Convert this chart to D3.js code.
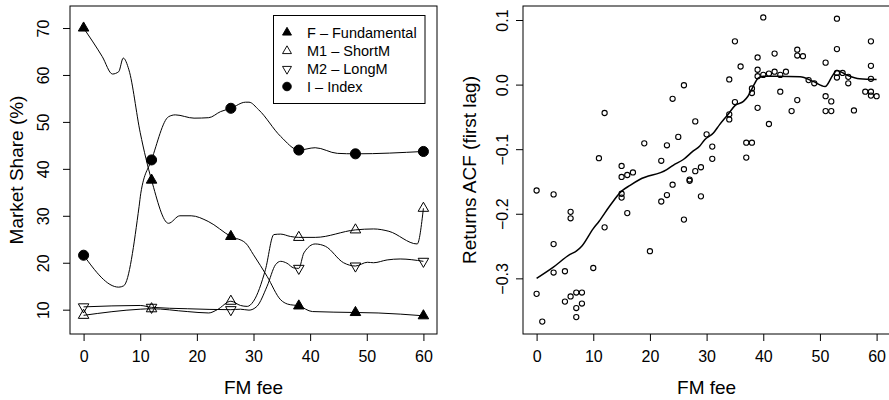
<!DOCTYPE html>
<html>
<head>
<meta charset="utf-8">
<script src="https://cdn.jsdelivr.net/npm/d3@7"></script>
<style>
  body { margin: 0; background: #fff; }
  svg { display: block; font-family: "Liberation Sans", Arial, Helvetica, sans-serif; }
</style>
</head>
<body>
<svg id="chart" width="889" height="400"></svg>
<script>
'use strict';

// ---- left panel: market share by agent type --------------------------
// fees at which a marker is drawn on each line
var markerFees = [0, 12, 26, 38, 48, 60];

// [fee, share %]
var fundamental = [[0, 70], [3.3, 63.9], [5.1, 60.2], [6.2, 60.7], [7, 63.6], [8, 61.1],
  [10, 47.7], [12, 37.6], [15, 28.4], [17, 30], [19, 30], [22, 28.8], [26, 25.6],
  [28.6, 24.2], [30, 21.7], [32.4, 17.1], [34.8, 12.1], [36, 11.2], [38, 10.8],
  [40.4, 9.6], [48, 9.4], [52, 9.3], [60, 8.7]];
var shortM = [[0, 8.8], [10, 10.1], [12, 10.2], [18.3, 9.6], [22.1, 9.3], [23.6, 10],
  [26, 11.8], [27.7, 10.9], [28.9, 10.7], [30, 11.8], [32.1, 18.5], [33.6, 26],
  [34.8, 26.1], [36.5, 25.6], [38, 25.4], [40.9, 25.4], [48, 27], [51.2, 27.2],
  [53.9, 26.7], [58.9, 24], [60, 31.6]];
var longM = [[0, 10.6], [10, 10.9], [12, 10.5], [18.3, 10.2], [26, 10.0], [27.7, 10.1],
  [29.2, 9.9], [30.6, 10.7], [32.4, 15], [33.9, 19.6], [34.8, 20.3], [35.9, 19.9],
  [37.1, 18.9], [38, 18.8], [38.9, 22.1], [40.9, 24], [42.7, 23.5], [45.9, 20],
  [48, 19.3], [50.1, 20.1], [51.2, 20], [53.6, 20.6], [55.9, 20.8], [60, 20.3]];
var indexShare = [[0, 21.6], [6.2, 14.8], [7.1, 15.1], [9.8, 32], [10.1, 34.8], [12, 41.9],
  [15, 51.1], [16.2, 51.5], [19.5, 50.8], [22.1, 50.9], [24.2, 52.2], [26, 52.9],
  [28.6, 54.2], [29.2, 54.2], [30.9, 52.6], [34.8, 46.9], [38, 44.0], [40.9, 44.5],
  [44.8, 43.3], [48, 43.2], [60, 43.7]];

var legendLabels = ['F \u2013 Fundamental', 'M1 \u2013 ShortM', 'M2 \u2013 LongM', 'I \u2013 Index'];

// ---- right panel: returns ACF (first lag) ---------------------------
var acfFee = [0, 0, 1, 3, 3, 3, 5, 5, 6, 6, 6, 7, 7, 7, 8, 8, 10, 11, 12, 12,
  15, 15, 15, 15, 16, 16, 17, 19, 20, 22, 22, 23, 23, 24, 24, 25, 26, 26, 26,
  27, 27, 28, 28, 29, 29, 30, 31, 31, 34, 34, 34, 35, 35, 36, 37, 37, 38, 38, 38,
  39, 39, 39, 39, 40, 40, 41, 41, 42, 42, 43, 43, 44, 45, 46, 46, 46, 47, 48, 49,
  51, 51, 51, 52, 52, 53, 53, 53, 53, 54, 55, 55, 56, 58, 59, 59, 59, 59, 59, 60];
var acfValue = [-0.164, -0.324, -0.367, -0.170, -0.247, -0.291, -0.289, -0.336,
  -0.197, -0.207, -0.328, -0.322, -0.346, -0.360, -0.322, -0.339, -0.284, -0.114,
  -0.044, -0.221, -0.126, -0.143, -0.169, -0.175, -0.140, -0.199, -0.136, -0.091,
  -0.258, -0.118, -0.181, -0.094, -0.171, -0.022, -0.155, -0.081, -0.001, -0.131,
  -0.209, -0.147, -0.149, -0.057, -0.134, -0.128, -0.173, -0.077, -0.096, -0.115,
  0.008, -0.046, -0.054, 0.067, -0.027, 0.028, -0.090, -0.113, -0.090, -0.006,
  -0.013, 0.042, 0.023, 0.013, -0.036, 0.104, 0.015, 0.017, -0.061, 0.048, 0.020,
  0.015, -0.011, 0.020, -0.041, 0.054, 0.045, -0.024, 0.044, 0.007, 0.002, 0.034,
  -0.018, -0.041, -0.026, -0.041, 0.102, 0.055, 0.018, 0.011, 0.018, 0.012, 0.002,
  -0.040, -0.011, 0.067, 0.029, 0.009, -0.011, -0.017, -0.018];

// smoothed curve through the scatter
var smoothFee = [0, 2.9, 5.9, 7, 8, 10, 11, 12.9, 15, 16.5, 18.2, 22.9, 24.1, 25.9,
  27.6, 28.8, 29.7, 31.2, 32.3, 33.8, 35, 36.5, 37.3, 38.2, 39.1, 40, 42.4, 46.5,
  48.8, 50.9, 52.3, 53, 54.7, 57, 60];
var smoothValue = [-0.300, -0.283, -0.263, -0.258, -0.250, -0.223, -0.212, -0.188,
  -0.165, -0.156, -0.147, -0.132, -0.125, -0.116, -0.103, -0.095, -0.085, -0.075,
  -0.062, -0.046, -0.0325, -0.026, -0.018, -0.003, 0.010, 0.013, 0.013, 0.012,
  0.005, -0.003, 0.015, 0.022, 0.015, 0.009, 0.008];

var feeTicks = [0, 10, 20, 30, 40, 50, 60];
var shareTicks = [10, 20, 30, 40, 50, 60, 70];
var acfTicks = [-0.3, -0.2, -0.1, 0.0, 0.1];

var svg = d3.select('#chart');
var boxTop = 6, boxBottom = 334;

/**
 * Box, ticks, tick labels and titles in the R base-graphics look.
 */
function drawFrame(x, y, xTicks, yTicks, yFormat, yLabelOffset, yTitle, yTitleX) {
  var r = x.range();
  var xAxis = svg.append('g')
    .attr('transform', 'translate(0,' + boxBottom + ')')
    .call(d3.axisBottom(x).tickValues(xTicks).tickSize(7).tickSizeOuter(0));
  xAxis.select('.domain').remove();
  xAxis.selectAll('text')
    .attr('y', 27.7).attr('dy', 0)
    .style('font-size', '16px').attr('fill', '#000');

  var yAxis = svg.append('g')
    .attr('transform', 'translate(' + r[0] + ',0)')
    .call(d3.axisLeft(y).tickValues(yTicks).tickSize(7).tickSizeOuter(0).tickFormat(yFormat));
  yAxis.select('.domain').remove();
  yAxis.selectAll('text')
    .attr('x', 0).attr('dy', 0)
    .attr('transform', 'translate(' + (-yLabelOffset) + ',0) rotate(-90)')
    .style('text-anchor', 'middle')
    .style('font-size', '16px').attr('fill', '#000');

  svg.append('rect')
    .attr('x', r[0]).attr('y', boxTop)
    .attr('width', r[1] - r[0]).attr('height', boxBottom - boxTop)
    .attr('fill', 'none').attr('stroke', '#000').attr('stroke-width', 1);

  svg.append('text')
    .attr('x', (x(0) + x(60)) / 2).attr('y', 393.5)
    .attr('text-anchor', 'middle').style('font-size', '19px')
    .text('FM fee');

  svg.append('text')
    .attr('transform', 'translate(' + yTitleX + ',' + ((boxTop + boxBottom) / 2) + ') rotate(-90)')
    .attr('text-anchor', 'middle').style('font-size', '19px')
    .text(yTitle);
}

// ---- left panel ----
var xL = d3.scaleLinear().domain([-2.4, 62.4]).range([70, 437]);
var yL = d3.scaleLinear().domain([4.82, 74.69]).range([boxBottom, boxTop]);

drawFrame(xL, yL, feeTicks, shareTicks, d3.format('d'), 20.7, 'Market Share (%)', 22.5);

var shareLine = d3.line()
  .x(function (d) { return xL(d[0]); })
  .y(function (d) { return yL(d[1]); })
  .curve(d3.curveMonotoneX);

var tri = d3.symbol().type(d3.symbolTriangle).size(48);
var dot = d3.symbol().type(d3.symbolCircle).size(80);

var series = [
  { data: fundamental, path: tri(), rot: 0, fill: '#000' },
  { data: shortM, path: tri(), rot: 0, fill: 'none' },
  { data: longM, path: tri(), rot: 180, fill: 'none' },
  { data: indexShare, path: dot(), rot: 0, fill: '#000' }
];

series.forEach(function (s) {
  svg.append('path')
    .attr('d', shareLine(s.data))
    .attr('fill', 'none').attr('stroke', '#000').attr('stroke-width', 1);

  svg.selectAll(null)
    .data(s.data.filter(function (d) { return markerFees.indexOf(d[0]) >= 0; }))
    .enter().append('path')
    .attr('d', s.path)
    .attr('transform', function (d) {
      return 'translate(' + xL(d[0]) + ',' + yL(d[1]) + ') rotate(' + s.rot + ')';
    })
    .attr('fill', s.fill).attr('stroke', '#000').attr('stroke-width', 1);
});

// legend
var legend = svg.append('g');
legend.append('rect')
  .attr('x', 273.5).attr('y', 15.5).attr('width', 151.5).attr('height', 88)
  .attr('fill', '#fff').attr('stroke', '#000').attr('stroke-width', 1);
var rowY = [32.5, 51, 69, 86.5];
series.forEach(function (s, i) {
  legend.append('path')
    .attr('d', s.path)
    .attr('transform', 'translate(287,' + rowY[i] + ') rotate(' + s.rot + ') scale(0.85)')
    .attr('fill', s.fill).attr('stroke', '#000').attr('stroke-width', 1.1);
  legend.append('text')
    .attr('x', 307).attr('y', rowY[i]).attr('dy', '0.35em')
    .style('font-size', '14.5px')
    .text(legendLabels[i]);
});

// ---- right panel ----
var xR = d3.scaleLinear().domain([-2.4, 62.4]).range([523, 890.2]);
var yR = d3.scaleLinear().domain([-0.3854, 0.1217]).range([333.5, boxTop]);

var acfFormat = function (v) {
  return d3.format('.1f')(v).replace('-', '\u2212');
};
drawFrame(xR, yR, feeTicks, acfTicks, acfFormat, 15, 'Returns ACF (first lag)', 475.5);

svg.append('g').selectAll('circle')
  .data(acfFee)
  .enter().append('circle')
  .attr('cx', function (d) { return xR(d); })
  .attr('cy', function (d, i) { return yR(acfValue[i]); })
  .attr('r', 2.6)
  .attr('fill', 'none').attr('stroke', '#000').attr('stroke-width', 1.1);

var smoothLine = d3.line()
  .x(function (d) { return xR(d); })
  .y(function (d, i) { return yR(smoothValue[i]); })
  .curve(d3.curveMonotoneX);

svg.append('path')
  .attr('d', smoothLine(smoothFee))
  .attr('fill', 'none').attr('stroke', '#000').attr('stroke-width', 1.5);
</script>
</body>
</html>
